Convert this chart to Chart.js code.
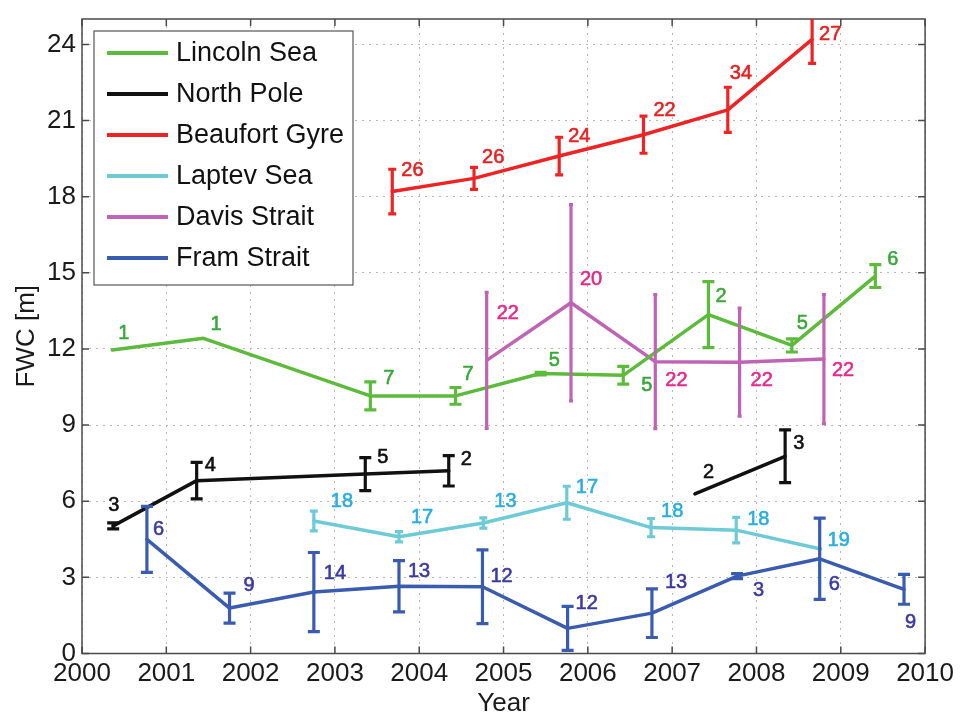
<!DOCTYPE html>
<html>
<head>
<meta charset="utf-8">
<script src="https://cdn.jsdelivr.net/npm/chart.js@4/dist/chart.umd.min.js"></script>
<style>
  html, body { margin: 0; padding: 0; background: #ffffff; }
  canvas { display: block; }
</style>
</head>
<body>
<canvas id="fwc" width="961" height="717"></canvas>
<script>
// Freshwater content (FWC, metres) by region; error = half-width of the bar,
// count = number of profiles behind each estimate.
const lincolnYear  = [2000.36, 2001.44, 2003.42, 2004.43, 2005.44, 2006.42, 2007.43, 2008.42, 2009.41];
const lincolnFWC   = [11.96, 12.42, 10.15, 10.15, 11.03, 10.96, 13.35, 12.14, 14.87];
const lincolnErr   = [0, 0, 0.55, 0.33, 0.05, 0.35, 1.3, 0.26, 0.45];
const lincolnCount = [1, 1, 7, 7, 5, 5, 2, 5, 6];

// North Pole record has a gap between 2004 and 2007 (null entry breaks the line)
const northPoleYear  = [2000.37, 2001.36, 2003.36, 2004.35, 2005.8, 2007.27, 2008.34];
const northPoleFWC   = [5.03, 6.81, 7.07, 7.2, null, 6.29, 7.77];
const northPoleErr   = [0.12, 0.72, 0.65, 0.6, null, 0, 1.04];
const northPoleCount = [3, 4, 5, 2, null, 2, 3];

const beaufortYear  = [2003.68, 2004.65, 2005.66, 2006.66, 2007.66, 2008.66];
const beaufortFWC   = [18.2, 18.72, 19.6, 20.44, 21.42, 24.2];
const beaufortErr   = [0.88, 0.43, 0.74, 0.73, 0.89, 0.95];
const beaufortCount = [26, 26, 24, 22, 34, 27];

const laptevYear  = [2002.75, 2003.76, 2004.76, 2005.75, 2006.75, 2007.76, 2008.76];
const laptevFWC   = [5.22, 4.6, 5.14, 5.94, 4.96, 4.86, 4.12];
const laptevErr   = [0.39, 0.2, 0.2, 0.65, 0.36, 0.5, 0];
const laptevCount = [18, 17, 13, 17, 18, 18, 19];

const davisYear  = [2004.8, 2005.8, 2006.8, 2007.8, 2008.8];
const davisFWC   = [11.55, 13.82, 11.5, 11.48, 11.6];
const davisErr   = [2.68, 3.87, 2.64, 2.13, 2.54];
const davisCount = [22, 20, 22, 22, 22];

const framYear  = [2000.77, 2001.75, 2002.75, 2003.76, 2004.75, 2005.76, 2006.76, 2007.77, 2008.75, 2009.75];
const framFWC   = [4.5, 1.79, 2.42, 2.65, 2.63, 0.99, 1.59, 3.05, 3.73, 2.53];
const framErr   = [1.3, 0.59, 1.56, 1.01, 1.45, 0.87, 0.96, 0.1, 1.6, 0.59];
const framCount = [6, 9, 14, 13, 12, 12, 13, 3, 6, 9];

// Axis ticks
const yearTicks = [2000, 2001, 2002, 2003, 2004, 2005, 2006, 2007, 2008, 2009, 2010];
const fwcTicks  = [0, 3, 6, 9, 12, 15, 18, 21, 24];

// ---- styling ----
const FONT = '"Liberation Sans", Arial, Helvetica, sans-serif';

// Pixel nudges for the count labels (left edge, vertical middle) relative to each point
const labelNudge = {
  lincoln:   [[6,-16],[7,-14],[13,-17],[7,-21],[8,-13],[18,10],[7,-18],[5,-22],[12,-17]],
  northPole: [[-5,-20],[8,-15],[12,-17],[12,-11],null,[8,-21],[8,-13]],
  beaufort:  [[9,-21],[8,-21],[9,-20],[10,-24],[2,-36],[7,-5]],
  laptev:    [[17,-20],[12,-19],[11,-22],[9,-15],[10,-16],[11,-11],[7,-8]],
  davis:     [[10,-47],[9,-23],[10,19],[11,18],[8,11]],
  fram:      [[6,-10],[14,-23],[10,-19],[9,-15],[8,-10],[8,-25],[13,-31],[16,14],[9,26],[1,33]]
};

function series(key, label, years, values, errs, counts, color, textColor, cap) {
  return {
    key, label,
    data: years.map((x, i) => ({ x, y: values[i] })),
    errs, counts,
    borderColor: color,
    backgroundColor: color,
    textColor,
    capHalf: cap,
    borderWidth: 3.5,
    pointRadius: 0,
    pointHoverRadius: 0,
    tension: 0,
    spanGaps: false,
    borderJoinStyle: 'round',
    borderCapStyle: 'round'
  };
}

const datasets = [
  series('lincoln',   'Lincoln Sea',   lincolnYear,   lincolnFWC,   lincolnErr,   lincolnCount,   '#5dbb3c', '#3aa83a', 6),
  series('northPole', 'North Pole',    northPoleYear, northPoleFWC, northPoleErr, northPoleCount, '#111111', '#111111', 6),
  series('beaufort',  'Beaufort Gyre', beaufortYear,  beaufortFWC,  beaufortErr,  beaufortCount,  '#ee2424', '#e82020', 4),
  series('laptev',    'Laptev Sea',    laptevYear,    laptevFWC,    laptevErr,    laptevCount,    '#6ecad6', '#2aaee0', 4),
  series('davis',     'Davis Strait',  davisYear,     davisFWC,     davisErr,     davisCount,     '#c063b4', '#e8288c', 2),
  series('fram',      'Fram Strait',   framYear,      framFWC,      framErr,      framCount,      '#3a5cb0', '#3b3aa2', 6)
];

// Vertical error bars with end caps, clipped to the plot box
const errorBarPlugin = {
  id: 'errorBars',
  afterDatasetsDraw(chart) {
    const { ctx, chartArea: a, scales: { x, y } } = chart;
    ctx.save();
    ctx.beginPath();
    ctx.rect(a.left, a.top, a.right - a.left, a.bottom - a.top);
    ctx.clip();
    chart.data.datasets.forEach(ds => {
      ds.data.forEach((p, i) => {
        const e = ds.errs[i];
        if (p.y == null || !e) return;
        const px = x.getPixelForValue(p.x);
        const top = y.getPixelForValue(p.y + e);
        const bot = y.getPixelForValue(p.y - e);
        ctx.strokeStyle = ds.borderColor;
        ctx.lineWidth = 3.2;
        ctx.lineCap = 'butt';
        ctx.beginPath();
        ctx.moveTo(px, top); ctx.lineTo(px, bot);
        ctx.moveTo(px - ds.capHalf, top); ctx.lineTo(px + ds.capHalf, top);
        ctx.moveTo(px - ds.capHalf, bot); ctx.lineTo(px + ds.capHalf, bot);
        ctx.stroke();
      });
    });
    ctx.restore();
  }
};

// Profile counts written next to each estimate
const countLabelPlugin = {
  id: 'countLabels',
  afterDatasetsDraw(chart) {
    const { ctx, scales: { x, y } } = chart;
    ctx.save();
    ctx.font = '20px ' + FONT;
    ctx.textAlign = 'left';
    ctx.textBaseline = 'middle';
    ctx.lineWidth = 0.6;
    ctx.lineJoin = 'round';
    chart.data.datasets.forEach(ds => {
      const nudge = labelNudge[ds.key];
      ds.data.forEach((p, i) => {
        if (p.y == null || ds.counts[i] == null) return;
        const [dx, dy] = nudge[i];
        const tx = x.getPixelForValue(p.x) + dx;
        const ty = y.getPixelForValue(p.y) + dy;
        ctx.fillStyle = ds.textColor;
        ctx.strokeStyle = ds.textColor;
        ctx.fillText(String(ds.counts[i]), tx, ty);
        ctx.strokeText(String(ds.counts[i]), tx, ty);
      });
    });
    ctx.restore();
  }
};

// Closed axes box with inward tick marks on all four sides
const boxPlugin = {
  id: 'axesBox',
  beforeDatasetsDraw(chart) {
    const { ctx, chartArea: a, scales: { x, y } } = chart;
    const tl = 7;
    ctx.save();
    ctx.strokeStyle = '#4a4a4a';
    ctx.lineWidth = 1.5;
    ctx.strokeRect(a.left, a.top, a.right - a.left, a.bottom - a.top);
    ctx.beginPath();
    yearTicks.forEach(v => {
      const px = x.getPixelForValue(v);
      ctx.moveTo(px, a.bottom); ctx.lineTo(px, a.bottom - tl);
      ctx.moveTo(px, a.top); ctx.lineTo(px, a.top + tl);
    });
    fwcTicks.forEach(v => {
      const py = y.getPixelForValue(v);
      ctx.moveTo(a.left, py); ctx.lineTo(a.left + tl, py);
      ctx.moveTo(a.right, py); ctx.lineTo(a.right - tl, py);
    });
    ctx.stroke();
    ctx.restore();
  }
};

// Boxed legend in the upper-left corner of the plot
const legendPlugin = {
  id: 'boxLegend',
  afterDraw(chart) {
    const { ctx } = chart;
    const left = 94, top = 31, width = 259, height = 254;
    const rowH = 41, firstRow = 53;
    ctx.save();
    ctx.fillStyle = '#ffffff';
    ctx.fillRect(left, top, width, height);
    ctx.strokeStyle = '#555555';
    ctx.lineWidth = 1.2;
    ctx.strokeRect(left, top, width, height);
    ctx.font = '27px ' + FONT;
    ctx.textAlign = 'left';
    ctx.textBaseline = 'middle';
    chart.data.datasets.forEach((ds, i) => {
      const cy = top + (firstRow - 31) + i * rowH;
      ctx.strokeStyle = ds.borderColor;
      ctx.lineWidth = 4;
      ctx.beginPath();
      ctx.moveTo(left + 13, cy); ctx.lineTo(left + 74, cy);
      ctx.stroke();
      ctx.fillStyle = '#111111';
      ctx.fillText(ds.label, left + 82, cy + 1);
    });
    ctx.restore();
  }
};

new Chart(document.getElementById('fwc'), {
  type: 'line',
  data: { datasets },
  plugins: [boxPlugin, errorBarPlugin, countLabelPlugin, legendPlugin],
  options: {
    responsive: false,
    animation: false,
    layout: { padding: { top: 15, right: 35, left: 0, bottom: 0 } },
    plugins: { legend: { display: false }, tooltip: { enabled: false } },
    scales: {
      x: {
        type: 'linear',
        min: 2000, max: 2010,
        afterFit(scale) { scale.height = 63.5; },
        afterBuildTicks(scale) { scale.ticks = yearTicks.map(v => ({ value: v })); },
        ticks: {
          callback: v => String(v),
          color: '#1a1a1a',
          font: { family: FONT, size: 26, lineHeight: 1 },
          padding: 7,
          maxRotation: 0,
          autoSkip: false
        },
        grid: { color: '#b8b8b8', lineWidth: 1, drawTicks: false },
        border: { display: false, dash: [2, 5] },
        title: {
          display: true, text: 'Year', color: '#1a1a1a',
          font: { family: FONT, size: 26, lineHeight: 1 },
          padding: { top: 0, bottom: 0 }
        }
      },
      y: {
        type: 'linear',
        min: 0, max: 25,
        afterFit(scale) { scale.width = 82; },
        afterBuildTicks(scale) { scale.ticks = fwcTicks.map(v => ({ value: v })); },
        ticks: {
          color: '#1a1a1a',
          font: { family: FONT, size: 26, lineHeight: 1 },
          padding: 6,
          autoSkip: false
        },
        grid: { color: '#b8b8b8', lineWidth: 1, drawTicks: false },
        border: { display: false, dash: [2, 5] },
        title: {
          display: true, text: 'FWC [m]', color: '#1a1a1a',
          font: { family: FONT, size: 26, lineHeight: 1 },
          padding: { top: 14, bottom: 0 }
        }
      }
    }
  }
});
</script>
</body>
</html>
